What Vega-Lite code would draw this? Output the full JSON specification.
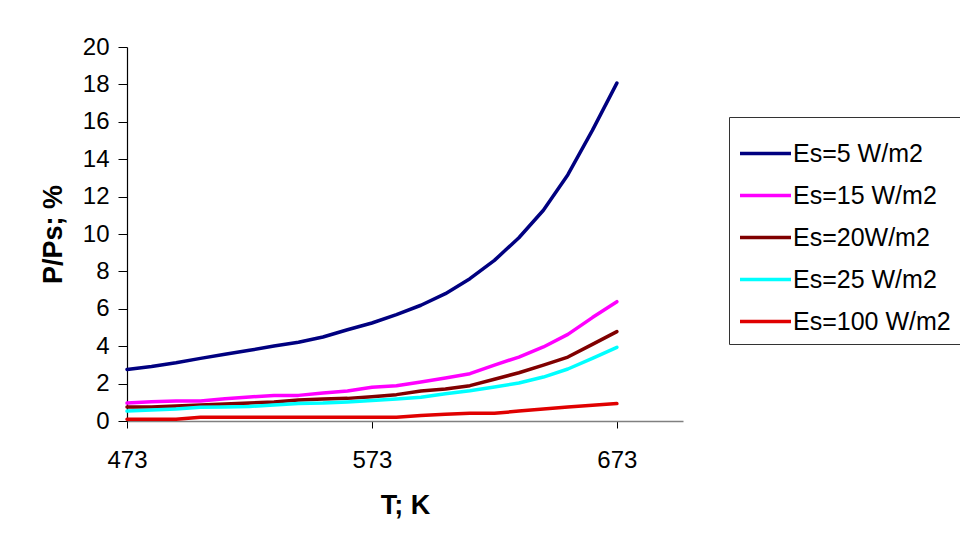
{
  "$schema": "https://vega.github.io/schema/vega-lite/v6.json",
  "width": 556,
  "height": 374,
  "autosize": {"type": "none"},
  "padding": {"left": 127, "top": 47, "right": 277, "bottom": 125},
  "background": "white",
  "config": {
    "view": {"stroke": null},
    "font": "Liberation Sans"
  },
  "data": {
    "values": [
      {"T":473,"s":"Es=5 W/m2","v":2.76},{"T":483,"s":"Es=5 W/m2","v":2.92},{"T":493,"s":"Es=5 W/m2","v":3.12},{"T":503,"s":"Es=5 W/m2","v":3.35},{"T":513,"s":"Es=5 W/m2","v":3.57},{"T":523,"s":"Es=5 W/m2","v":3.78},{"T":533,"s":"Es=5 W/m2","v":4.01},{"T":543,"s":"Es=5 W/m2","v":4.21},{"T":553,"s":"Es=5 W/m2","v":4.49},{"T":563,"s":"Es=5 W/m2","v":4.88},{"T":573,"s":"Es=5 W/m2","v":5.24},{"T":583,"s":"Es=5 W/m2","v":5.69},{"T":593,"s":"Es=5 W/m2","v":6.19},{"T":603,"s":"Es=5 W/m2","v":6.81},{"T":613,"s":"Es=5 W/m2","v":7.61},{"T":623,"s":"Es=5 W/m2","v":8.59},{"T":633,"s":"Es=5 W/m2","v":9.80},{"T":643,"s":"Es=5 W/m2","v":11.27},{"T":653,"s":"Es=5 W/m2","v":13.17},{"T":663,"s":"Es=5 W/m2","v":15.54},{"T":673,"s":"Es=5 W/m2","v":18.07},
      {"T":473,"s":"Es=15 W/m2","v":0.96},{"T":483,"s":"Es=15 W/m2","v":1.03},{"T":493,"s":"Es=15 W/m2","v":1.07},{"T":503,"s":"Es=15 W/m2","v":1.07},{"T":513,"s":"Es=15 W/m2","v":1.19},{"T":523,"s":"Es=15 W/m2","v":1.28},{"T":533,"s":"Es=15 W/m2","v":1.37},{"T":543,"s":"Es=15 W/m2","v":1.37},{"T":553,"s":"Es=15 W/m2","v":1.50},{"T":563,"s":"Es=15 W/m2","v":1.60},{"T":573,"s":"Es=15 W/m2","v":1.80},{"T":583,"s":"Es=15 W/m2","v":1.89},{"T":593,"s":"Es=15 W/m2","v":2.09},{"T":603,"s":"Es=15 W/m2","v":2.30},{"T":613,"s":"Es=15 W/m2","v":2.53},{"T":623,"s":"Es=15 W/m2","v":2.99},{"T":633,"s":"Es=15 W/m2","v":3.42},{"T":643,"s":"Es=15 W/m2","v":3.96},{"T":653,"s":"Es=15 W/m2","v":4.63},{"T":663,"s":"Es=15 W/m2","v":5.53},{"T":673,"s":"Es=15 W/m2","v":6.38},
      {"T":473,"s":"Es=20W/m2","v":0.75},{"T":483,"s":"Es=20W/m2","v":0.75},{"T":493,"s":"Es=20W/m2","v":0.80},{"T":503,"s":"Es=20W/m2","v":0.86},{"T":513,"s":"Es=20W/m2","v":0.91},{"T":523,"s":"Es=20W/m2","v":0.96},{"T":533,"s":"Es=20W/m2","v":1.02},{"T":543,"s":"Es=20W/m2","v":1.12},{"T":553,"s":"Es=20W/m2","v":1.18},{"T":563,"s":"Es=20W/m2","v":1.21},{"T":573,"s":"Es=20W/m2","v":1.30},{"T":583,"s":"Es=20W/m2","v":1.41},{"T":593,"s":"Es=20W/m2","v":1.60},{"T":603,"s":"Es=20W/m2","v":1.71},{"T":613,"s":"Es=20W/m2","v":1.89},{"T":623,"s":"Es=20W/m2","v":2.23},{"T":633,"s":"Es=20W/m2","v":2.58},{"T":643,"s":"Es=20W/m2","v":2.99},{"T":653,"s":"Es=20W/m2","v":3.42},{"T":663,"s":"Es=20W/m2","v":4.10},{"T":673,"s":"Es=20W/m2","v":4.78},
      {"T":473,"s":"Es=25 W/m2","v":0.53},{"T":483,"s":"Es=25 W/m2","v":0.59},{"T":493,"s":"Es=25 W/m2","v":0.64},{"T":503,"s":"Es=25 W/m2","v":0.73},{"T":513,"s":"Es=25 W/m2","v":0.75},{"T":523,"s":"Es=25 W/m2","v":0.78},{"T":533,"s":"Es=25 W/m2","v":0.86},{"T":543,"s":"Es=25 W/m2","v":0.94},{"T":553,"s":"Es=25 W/m2","v":0.96},{"T":563,"s":"Es=25 W/m2","v":1.02},{"T":573,"s":"Es=25 W/m2","v":1.09},{"T":583,"s":"Es=25 W/m2","v":1.18},{"T":593,"s":"Es=25 W/m2","v":1.27},{"T":603,"s":"Es=25 W/m2","v":1.46},{"T":613,"s":"Es=25 W/m2","v":1.62},{"T":623,"s":"Es=25 W/m2","v":1.82},{"T":633,"s":"Es=25 W/m2","v":2.03},{"T":643,"s":"Es=25 W/m2","v":2.35},{"T":653,"s":"Es=25 W/m2","v":2.78},{"T":663,"s":"Es=25 W/m2","v":3.35},{"T":673,"s":"Es=25 W/m2","v":3.94},
      {"T":473,"s":"Es=100 W/m2","v":0.09},{"T":483,"s":"Es=100 W/m2","v":0.09},{"T":493,"s":"Es=100 W/m2","v":0.09},{"T":503,"s":"Es=100 W/m2","v":0.20},{"T":513,"s":"Es=100 W/m2","v":0.20},{"T":523,"s":"Es=100 W/m2","v":0.20},{"T":533,"s":"Es=100 W/m2","v":0.20},{"T":543,"s":"Es=100 W/m2","v":0.20},{"T":553,"s":"Es=100 W/m2","v":0.20},{"T":563,"s":"Es=100 W/m2","v":0.20},{"T":573,"s":"Es=100 W/m2","v":0.20},{"T":583,"s":"Es=100 W/m2","v":0.20},{"T":593,"s":"Es=100 W/m2","v":0.30},{"T":603,"s":"Es=100 W/m2","v":0.36},{"T":613,"s":"Es=100 W/m2","v":0.41},{"T":623,"s":"Es=100 W/m2","v":0.41},{"T":633,"s":"Es=100 W/m2","v":0.53},{"T":643,"s":"Es=100 W/m2","v":0.64},{"T":653,"s":"Es=100 W/m2","v":0.75},{"T":663,"s":"Es=100 W/m2","v":0.84},{"T":673,"s":"Es=100 W/m2","v":0.93}
    ]
  },
  "mark": {"type": "line", "strokeWidth": 3.5, "strokeCap": "round", "strokeJoin": "round"},
  "encoding": {
    "x": {
      "field": "T", "type": "quantitative",
      "scale": {"domain": [473, 700], "nice": false, "zero": false},
      "axis": {
        "title": "T; K",
        "values": [473, 573, 673],
        "format": "d",
        "grid": false,
        "domainColor": "#808080",
        "domainWidth": 1.5,
        "tickColor": "#000000",
        "tickSize": 7,
        "labelFontSize": 24,
        "labelColor": "#000000",
        "labelBaseline": "alphabetic",
        "labelPadding": 39,
        "labelFlush": false,
        "labelOverlap": false,
        "titleFontSize": 27,
        "titleFontWeight": "bold",
        "titleColor": "#000000",
        "titleBaseline": "alphabetic",
        "titleY": 92
      }
    },
    "y": {
      "field": "v", "type": "quantitative",
      "scale": {"domain": [0, 20], "nice": false},
      "axis": {
        "title": "P/Ps; %",
        "values": [0, 2, 4, 6, 8, 10, 12, 14, 16, 18, 20],
        "grid": false,
        "domainColor": "#000000",
        "domainWidth": 1.2,
        "tickColor": "#000000",
        "tickSize": 9,
        "labelFontSize": 24,
        "labelColor": "#000000",
        "labelPadding": 9,
        "labelFlush": false,
        "labelOverlap": false,
        "titleFontSize": 27,
        "titleFontWeight": "bold",
        "titleColor": "#000000",
        "titleAngle": -90,
        "titleBaseline": "middle",
        "titleAlign": "center",
        "titleX": -74,
        "titleY": 187
      }
    },
    "color": {
      "field": "s", "type": "nominal",
      "scale": {
        "domain": ["Es=5 W/m2", "Es=15 W/m2", "Es=20W/m2", "Es=25 W/m2", "Es=100 W/m2"],
        "range": ["#000080", "#FF00FF", "#800000", "#00FFFF", "#E00000"]
      },
      "legend": {
        "title": null,
        "orient": "none",
        "legendX": 602,
        "legendY": 70,
        "padding": 9,
        "strokeColor": "#333333",
        "fillColor": "white",
        "symbolType": "stroke",
        "symbolSize": 2601,
        "symbolStrokeWidth": 3.5,
        "labelFontSize": 25,
        "labelColor": "#000000",
        "labelOffset": 0,
        "labelLimit": 400,
        "rowPadding": 1
      }
    }
  }
}
